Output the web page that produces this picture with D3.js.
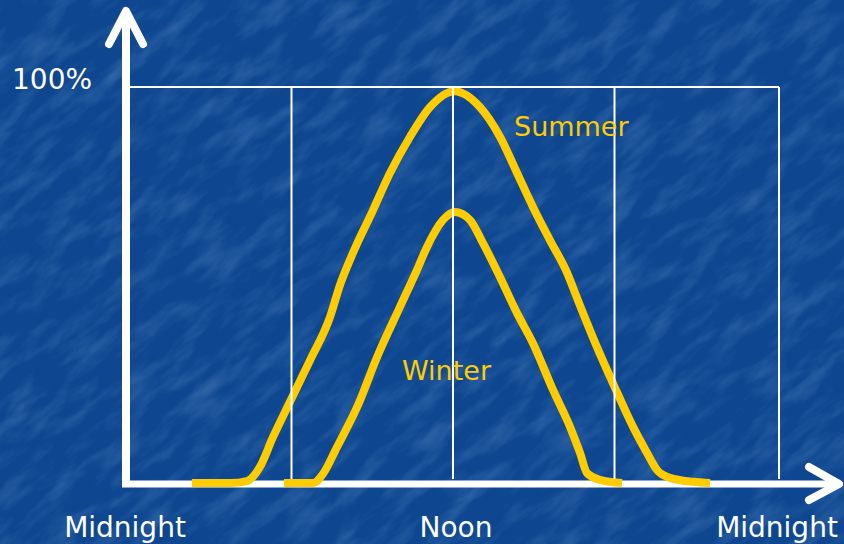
<!DOCTYPE html>
<html>
<head>
<meta charset="utf-8">
<script src="https://cdn.jsdelivr.net/npm/d3@7"></script>
<style>
  html, body { margin: 0; padding: 0; background: #0F4A93; }
  svg { display: block; }
</style>
</head>
<body>
<svg id="chart" width="844" height="544"></svg>
<script>
// ---- data ----
const summerHours = [2.30, 3.72, 4.35, 4.83, 5.31, 5.94, 6.69, 7.43, 7.80, 8.28, 9.03, 9.66, 10.40, 11.15, 12.05,
                     13.00, 13.75, 14.38, 14.97, 15.60, 16.24, 16.61, 17.35, 17.94, 18.69, 19.21, 19.58, 20.06, 20.92, 21.55];
const summerPct   = [0, 0, 0.5, 4.1, 11.6, 20.5, 31.1, 42.0, 50.1, 58.2, 69.1, 78.5, 87.6, 95.2, 99.2,
                     95.2, 87.6, 78.5, 69.9, 61.5, 53.2, 46.8, 34.4, 25.3, 14.2, 7.6, 3.3, 1.3, 0.3, 0];
const winterHours = [5.72, 6.80, 7.17, 7.69, 8.47, 9.18, 10.03, 10.66, 11.03, 11.63, 12.07,
                     12.63, 13.11, 13.74, 14.38, 14.97, 15.72, 16.35, 16.72, 16.98, 17.46, 18.28];
const winterPct   = [0, 0, 2.3, 9.1, 19.7, 31.9, 44.6, 53.9, 59.7, 66.6, 68.6,
                     66.6, 60.8, 52.2, 43.0, 35.4, 23.5, 14.2, 7.6, 2.5, 0.8, 0];
const gridHours = [6, 12, 18, 24];
const xTickHours = [0, 12, 24];
const xTickLabels = ["Midnight", "Noon", "Midnight"];
const yTickLabel = "100%";
const seriesNames = ["Summer", "Winter"];

// ---- setup ----
const svg = d3.select("#chart");
const W = 844, H = 544;
const x = d3.scaleLinear().domain([0, 24]).range([130, 776]);
const y = d3.scaleLinear().domain([0, 100]).range([483, 88]);
const yellow = "#FFCC00";
const font = "'DejaVu Sans', Verdana, sans-serif";

// background texture
const defs = svg.append("defs");
const filt = defs.append("filter").attr("id", "tex").attr("x", 0).attr("y", 0).attr("width", "100%").attr("height", "100%");
filt.append("feTurbulence").attr("type", "fractalNoise").attr("baseFrequency", "0.02 0.06")
  .attr("numOctaves", 4).attr("seed", 7).attr("result", "n");
filt.append("feColorMatrix").attr("in", "n").attr("type", "matrix")
  .attr("values", "0 0 0 0 0.3  0 0 0 0 0.5  0 0 0 0 0.8  1.4 0 0 0 -0.6");
svg.append("rect").attr("width", W).attr("height", H).attr("fill", "#0E4790");
svg.append("g").attr("transform", `rotate(-40 ${W/2} ${H/2})`)
  .append("rect").attr("x", -400).attr("y", -400).attr("width", W + 800).attr("height", H + 800)
  .attr("filter", "url(#tex)").attr("opacity", 0.35);

// axes (thick white with arrowheads)
const axisG = svg.append("g").attr("stroke", "#fff").attr("fill", "none")
  .attr("stroke-linecap", "round").attr("stroke-linejoin", "round");
axisG.append("line").attr("x1", x(0) - 4).attr("x2", x(0) - 4).attr("y1", y(0) + 4).attr("y2", 12).attr("stroke-width", 8).attr("stroke-linecap", "butt");
axisG.append("polyline").attr("points", `${x(0)-21},44 ${x(0)-4},11 ${x(0)+13},44`).attr("stroke-width", 8);
axisG.append("line").attr("x1", x(0) - 8).attr("x2", 838).attr("y1", y(0) + 1).attr("y2", y(0) + 1).attr("stroke-width", 7).attr("stroke-linecap", "butt");
axisG.append("polyline").attr("points", `809,467 839,${y(0)+1} 809,500`).attr("stroke-width", 8);

// curves
const line = d3.line().x(d => x(d[0])).y(d => y(d[1])).curve(d3.curveMonotoneX);
const summer = summerHours.map((h, i) => [h, summerPct[i]]);
const winter = winterHours.map((h, i) => [h, winterPct[i]]);
[summer, winter].forEach(data => {
  svg.append("path").attr("d", line(data)).attr("fill", "none").attr("stroke", yellow)
    .attr("stroke-width", 8).attr("stroke-linecap", "butt").attr("stroke-linejoin", "round");
});

// grid box
const gridG = svg.append("g").attr("stroke", "#fff").attr("stroke-width", 2).attr("fill", "none");
gridG.append("line").attr("x1", x(0)).attr("x2", x(24) + 3).attr("y1", y(100) - 1).attr("y2", y(100) - 1);
gridHours.forEach(h => {
  const xx = h === 24 ? x(h) + 3 : x(h);
  gridG.append("line").attr("x1", xx).attr("x2", xx).attr("y1", y(100) - 1).attr("y2", y(0) - 4);
});

// text
svg.append("text").attr("x", 12).attr("y", 89).attr("fill", "#fff")
  .attr("font-family", font).attr("font-size", 28).text(yTickLabel);
xTickHours.forEach((h, i) => {
  svg.append("text").attr("x", x(h) - (i === 0 ? 5 : (i === 1 ? -3 : -1))).attr("y", 537)
    .attr("text-anchor", "middle").attr("fill", "#fff")
    .attr("font-family", font).attr("font-size", 28).text(xTickLabels[i]);
});
svg.append("text").attr("x", 514).attr("y", 136).attr("fill", yellow)
  .attr("font-family", font).attr("font-size", 27).text(seriesNames[0]);
svg.append("text").attr("x", 402).attr("y", 380).attr("fill", yellow)
  .attr("font-family", font).attr("font-size", 27).text(seriesNames[1]);
</script>
</body>
</html>
